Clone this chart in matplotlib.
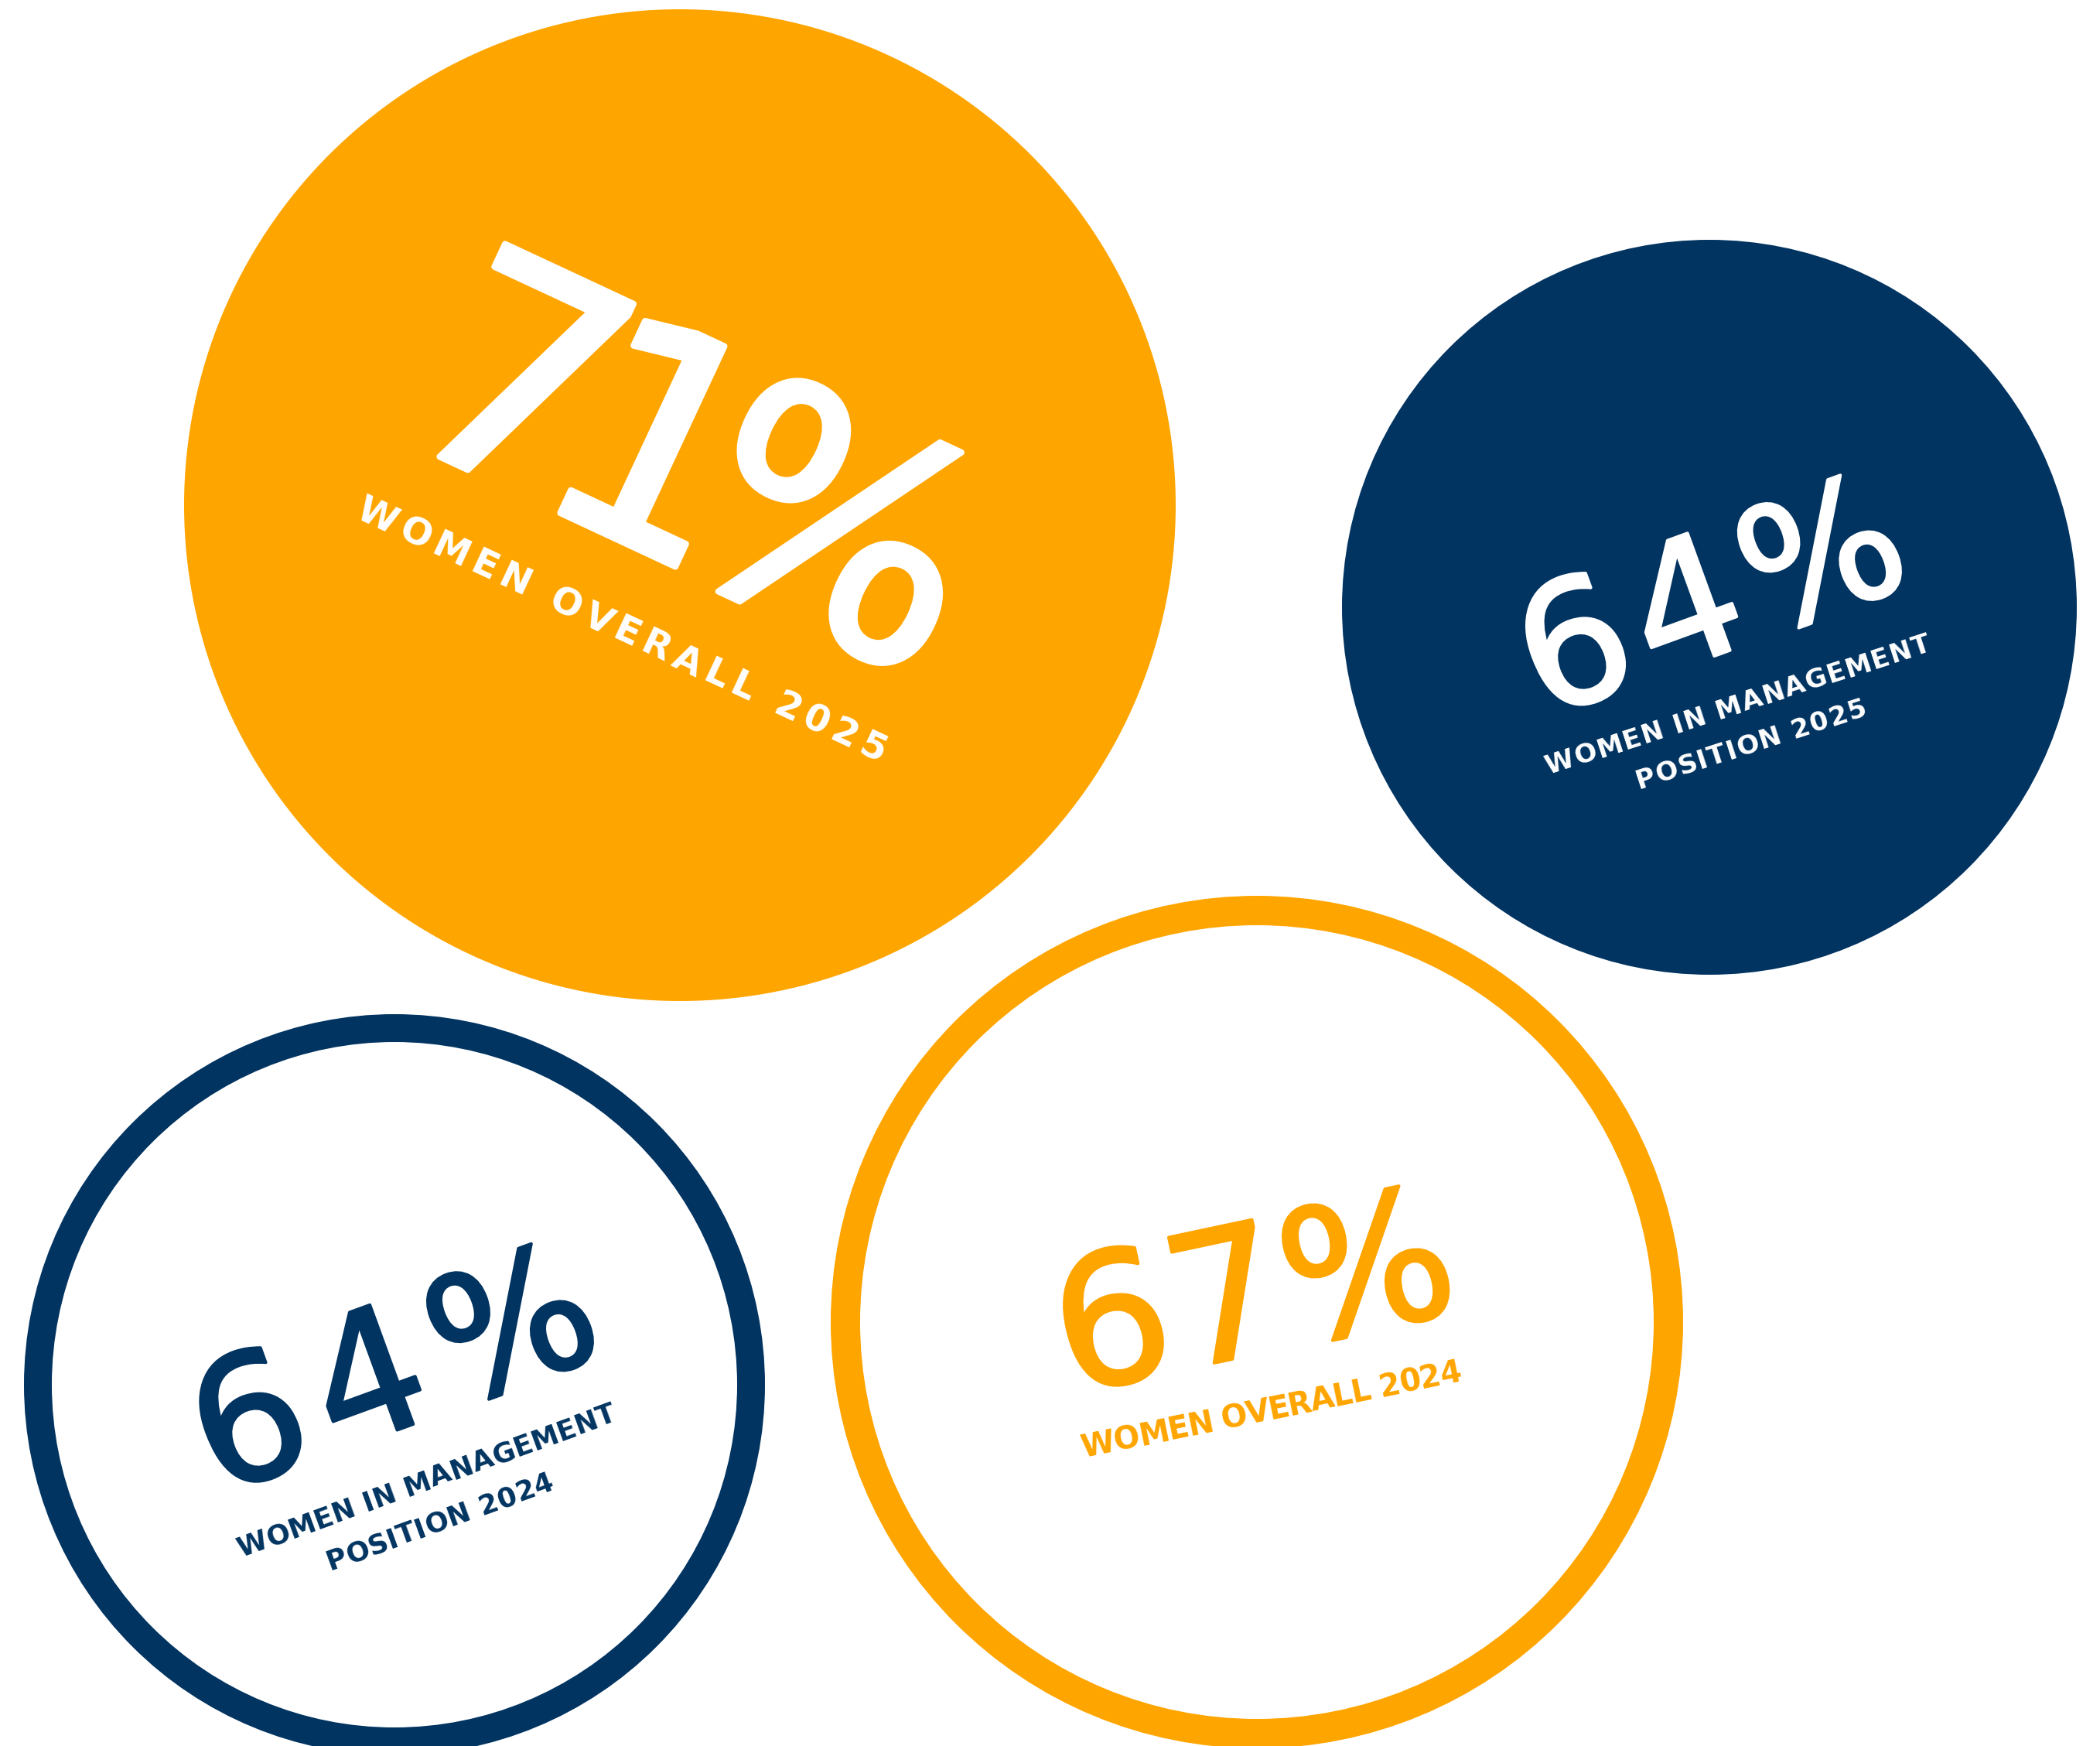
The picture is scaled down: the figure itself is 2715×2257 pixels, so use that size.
import numpy as np
import matplotlib
matplotlib.use("Agg")
import matplotlib.pyplot as plt
import matplotlib.patheffects as pe
from matplotlib.patches import Circle
from matplotlib.font_manager import FontProperties
from matplotlib.textpath import TextPath

# data
values = [71, 64, 64, 67]
labels = [
    ["WOMEN OVERALL 2025"],
    ["WOMEN IN MANAGEMENT", "POSITION 2025"],
    ["WOMEN IN MANAGEMENT", "POSITION 2024"],
    ["WOMEN OVERALL 2024"],
]

ORANGE = "#FFA500"
NAVY = "#023461"

# layout (pixels, y down)
centers = [(879, 653), (2210, 785), (510, 1790), (1625, 1709)]
radii = [641, 475, 479, 551]
filled = [True, True, False, False]
colors = [ORANGE, NAVY, NAVY, ORANGE]
ring_px = [0, 0, 36, 38]

num_pos = [(909, 592), (2209, 765), (506, 1764), (1619, 1664)]
num_cap = [285, 161, 164, 171]
num_len = [762, 515, 540, 523]
num_rot = [-25, 20, 20, 12]
num_thick = [8, 4, 4, 4]

lab_pos = [[(805, 812)], [(2246, 909), (2263, 960)], [(551, 1912), (568, 1965)], [(1643, 1820)]]
lab_cap = [35, 25, 26, 29]
lab_len = [[750], [521, 311], [518, 310], [500]]
lab_rot = [-25, 18, 20, 11.5]

W, H = 2715, 2257
fig = plt.figure(figsize=(W / 100, H / 100), dpi=100)
ax = fig.add_axes([0, 0, 1, 1])
ax.set_xlim(0, W)
ax.set_ylim(H, 0)
ax.set_aspect("equal")
ax.axis("off")
renderer = fig.canvas.get_renderer()


def tw(s, fp):
    return renderer.get_text_width_height_descent(s, fp, ismath=False)[0]


def spaced_text(s, cx, cy, rot, cap_px, length_px, weight, color, thick=0):
    fp = FontProperties(family="DejaVu Sans", weight=weight, size=100)
    h100 = TextPath((0, 0), "H", prop=fp).get_extents().height * 100 / 72
    size_pt = 100 * cap_px / h100
    fp = FontProperties(family="DejaVu Sans", weight=weight, size=size_pt)
    wh = tw("H", fp)
    pos = [0.0] + [tw(s[:k] + "H", fp) - wh for k in range(1, len(s))]
    ink = tw(s, fp)
    gap = (length_px - ink) / (len(s) - 1)
    t = np.deg2rad(rot)
    d = np.array([np.cos(t), -np.sin(t)])      # along baseline (y down)
    n = np.array([np.sin(t), np.cos(t)])       # downward normal
    start = np.array([cx, cy]) - d * length_px / 2 + n * cap_px / 2
    fx = [pe.withStroke(linewidth=thick * 0.72, foreground=color)] if thick else None
    for k, c in enumerate(s):
        if c == " ":
            continue
        p = start + d * (pos[k] + k * gap)
        ax.text(p[0], p[1], c, color=color, fontproperties=fp,
                rotation=rot, rotation_mode="anchor", ha="left", va="baseline",
                path_effects=fx)


for i in range(len(values)):
    cx, cy = centers[i]
    if filled[i]:
        ax.add_patch(Circle((cx, cy), radii[i], facecolor=colors[i], edgecolor="none"))
        tcol = "white"
    else:
        lw = ring_px[i] * 72 / 100
        ax.add_patch(Circle((cx, cy), radii[i] - ring_px[i] / 2, facecolor="none",
                            edgecolor=colors[i], linewidth=lw))
        tcol = colors[i]
    spaced_text(f"{values[i]}%", num_pos[i][0], num_pos[i][1], num_rot[i],
                num_cap[i], num_len[i], "normal", tcol, num_thick[i])
    for line, (lx, ly), ln in zip(labels[i], lab_pos[i], lab_len[i]):
        spaced_text(line, lx, ly, lab_rot[i], lab_cap[i], ln, "bold", tcol)

fig.savefig("out.png", dpi=100)
